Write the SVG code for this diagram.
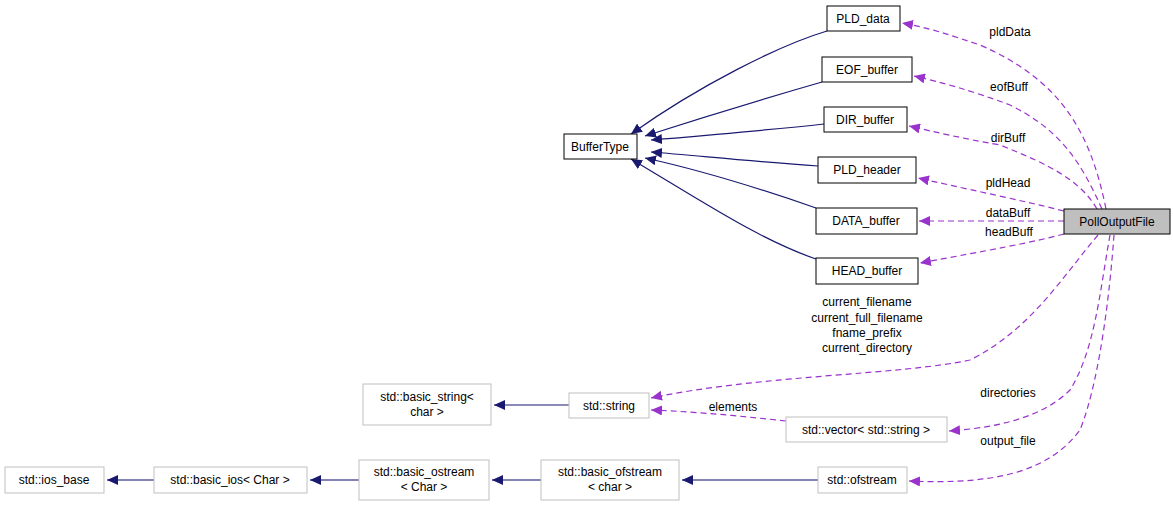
<svg xmlns="http://www.w3.org/2000/svg" width="1173" height="506" viewBox="0 0 1173 506">
<style>
text{font-family:"Liberation Sans",Arial,sans-serif;font-size:12px;fill:#000;text-anchor:middle}
.n{fill:#fff;stroke:#000;stroke-width:1}
.g{fill:#fff;stroke:#bfbfbf;stroke-width:1}
.h{fill:#bfbfbf;stroke:#000;stroke-width:1}
.i{fill:none;stroke:#191970;stroke-width:1.2}
.j{fill:none;stroke:#5a5a9a;stroke-width:1.6}
.u{fill:none;stroke:#9a32cd;stroke-width:1.2;stroke-dasharray:6,4}
</style>
<defs>
<marker id="b" markerWidth="12" markerHeight="10" refX="11" refY="5" orient="auto" markerUnits="userSpaceOnUse"><path d="M0,0 L11,5 L0,10 z" fill="#191970"/></marker>
<marker id="p" markerWidth="12" markerHeight="10" refX="11" refY="5" orient="auto" markerUnits="userSpaceOnUse"><path d="M0,0 L11,5 L0,10 z" fill="#9a32cd"/></marker>
</defs>
<rect width="1173" height="506" fill="#fff"/>
<g id="connectors">
<path class="i" d="M827,31 C780,45 700,85 631,134" marker-end="url(#b)"/>
<path class="i" d="M822,82 C770,97 710,115 645,136" marker-end="url(#b)"/>
<path class="i" d="M824,124 C770,130 710,135 651,140" marker-end="url(#b)"/>
<path class="i" d="M818,166 C760,162 700,156 651,152" marker-end="url(#b)"/>
<path class="i" d="M816,208 C770,192 700,170 645,158" marker-end="url(#b)"/>
<path class="i" d="M816,259 C760,240 700,200 631,159" marker-end="url(#b)"/>
<path class="i" d="M569,405 L494,405" marker-end="url(#b)"/>
<path class="j" d="M818,480 L682,480" marker-end="url(#b)"/>
<path class="j" d="M541,480 L492,480" marker-end="url(#b)"/>
<path class="j" d="M359,480 L310,480" marker-end="url(#b)"/>
<path class="j" d="M154,480 L107,480" marker-end="url(#b)"/>
<path class="u" d="M1106,209 C1090,130 1060,80 980,45 C950,35 930,28 902,23" marker-end="url(#p)"/>
<path class="u" d="M1102,209 C1080,160 1060,130 1010,105 C970,90 940,82 914,76" marker-end="url(#p)"/>
<path class="u" d="M1097,209 C1080,180 1050,165 1000,145 C960,138 935,132 909,126" marker-end="url(#p)"/>
<path class="u" d="M1064,211 C1020,200 980,192 918,178" marker-end="url(#p)"/>
<path class="u" d="M1064,221 L919,221" marker-end="url(#p)"/>
<path class="u" d="M1064,234 C1030,243 990,250 920,263" marker-end="url(#p)"/>
<path class="u" d="M1098,235 C1060,280 1030,330 970,360 C900,375 760,375 651,398" marker-end="url(#p)"/>
<path class="u" d="M1110,235 C1100,290 1095,350 1070,390 C1040,420 990,428 949,431" marker-end="url(#p)"/>
<path class="u" d="M1114,235 C1110,290 1100,380 1080,430 C1050,470 1000,485 909,481" marker-end="url(#p)"/>
<path class="u" d="M786,421 C740,416 700,412 651,410" marker-end="url(#p)"/>
</g>
<g>
<text x="1010" y="36">pldData</text>
<text x="1009" y="91">eofBuff</text>
<text x="1008" y="142">dirBuff</text>
<text x="1008" y="187">pldHead</text>
<text x="1008" y="217">dataBuff</text>
<text x="1009" y="236">headBuff</text>
<text x="867" y="306">current_filename</text>
<text x="867" y="322">current_full_filename</text>
<text x="867" y="337">fname_prefix</text>
<text x="867" y="352">current_directory</text>
<text x="1008" y="397">directories</text>
<text x="1008" y="445">output_file</text>
<text x="733" y="411">elements</text>
</g>
<g id="PLD_data"><rect class="n" x="827" y="6" width="73" height="25"/><text x="863" y="23">PLD_data</text></g>
<g id="EOF_buffer"><rect class="n" x="822" y="57" width="90" height="25"/><text x="867" y="74">EOF_buffer</text></g>
<g id="DIR_buffer"><rect class="n" x="824" y="107" width="83" height="25"/><text x="865" y="124">DIR_buffer</text></g>
<g id="PLD_header"><rect class="n" x="818" y="157" width="98" height="26"/><text x="867" y="174">PLD_header</text></g>
<g id="DATA_buffer"><rect class="n" x="816" y="208" width="101" height="26"/><text x="866" y="225">DATA_buffer</text></g>
<g id="HEAD_buffer"><rect class="n" x="816" y="258" width="102" height="26"/><text x="867" y="275">HEAD_buffer</text></g>
<g id="BufferType"><rect class="n" x="564" y="134" width="73" height="25"/><text x="600" y="151">BufferType</text></g>
<g id="PollOutputFile"><rect class="h" x="1064" y="209" width="106" height="25"/><text x="1117" y="226">PollOutputFile</text></g>
<g id="basic_string"><rect class="g" x="363" y="384" width="128" height="41"/><text x="427" y="401">std::basic_string&lt;</text><text x="427" y="416">char &gt;</text></g>
<g id="string"><rect class="g" x="569" y="393" width="80" height="25"/><text x="609" y="410">std::string</text></g>
<g id="vector"><rect class="g" x="786" y="417" width="161" height="25"/><text x="866" y="434">std::vector&lt; std::string &gt;</text></g>
<g id="ios_base"><rect class="g" x="5" y="467" width="99" height="26"/><text x="54" y="484">std::ios_base</text></g>
<g id="basic_ios"><rect class="g" x="154" y="467" width="153" height="26"/><text x="230" y="484">std::basic_ios&lt; Char &gt;</text></g>
<g id="basic_ostream"><rect class="g" x="359" y="460" width="130" height="40"/><text x="424" y="476">std::basic_ostream</text><text x="424" y="491">&lt; Char &gt;</text></g>
<g id="basic_ofstream"><rect class="g" x="541" y="460" width="138" height="40"/><text x="610" y="476">std::basic_ofstream</text><text x="610" y="491">&lt; char &gt;</text></g>
<g id="ofstream"><rect class="g" x="818" y="467" width="89" height="26"/><text x="862" y="484">std::ofstream</text></g>
</svg>
